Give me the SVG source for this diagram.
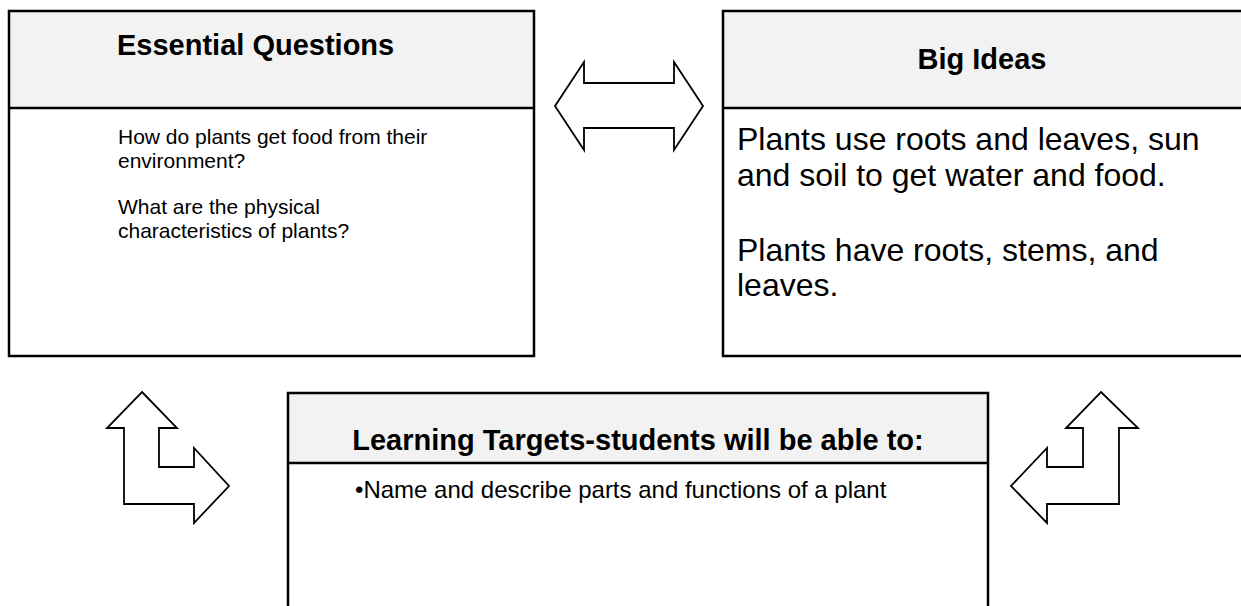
<svg xmlns="http://www.w3.org/2000/svg" width="1241" height="606" viewBox="0 0 1241 606">
<style>
.hdr{fill:#f2f2f2;stroke:none}
.frame{fill:none;stroke:#000;stroke-width:2.5}
.title{font-family:"Liberation Sans",Arial,sans-serif;font-weight:bold;fill:#000}
.body{font-family:"Liberation Sans",Arial,sans-serif;fill:#000}
.arrow{fill:#fff;stroke:#000;stroke-width:1.8;stroke-linejoin:miter}
</style>
<rect width="1241" height="606" fill="#fff"/>
<g id="essential-questions">
<rect class="hdr" x="9" y="11" width="525" height="97"/>
<rect class="frame" x="9" y="11" width="525" height="345"/>
<line x1="9" y1="108" x2="534" y2="108" stroke="#000" stroke-width="2.5"/>
<text class="title" x="117" y="55" font-size="29">Essential Questions</text>
<text class="body" font-size="21"><tspan x="118" y="144">How do plants get food from their</tspan><tspan x="118" y="168">environment?</tspan><tspan x="118" y="214">What are the physical</tspan><tspan x="118" y="238">characteristics of plants?</tspan></text>
</g>
<g id="big-ideas">
<rect class="hdr" x="723" y="11" width="520" height="97"/>
<path class="frame" d="M1243,11 H723 V356 H1243"/>
<line x1="723" y1="108" x2="1243" y2="108" stroke="#000" stroke-width="2.5"/>
<text class="title" x="982" y="69" font-size="29" text-anchor="middle">Big Ideas</text>
<text class="body" font-size="32"><tspan x="737" y="150">Plants use roots and leaves, sun</tspan><tspan x="737" y="186">and soil to get water and food.</tspan><tspan x="737" y="261">Plants have roots, stems, and</tspan><tspan x="737" y="296">leaves.</tspan></text>
</g>
<g id="learning-targets">
<rect class="hdr" x="288" y="393" width="700" height="70"/>
<path class="frame" d="M288,610 V393 H988 V610"/>
<line x1="288" y1="463" x2="988" y2="463" stroke="#000" stroke-width="2.5"/>
<text class="title" x="638" y="450" font-size="29" text-anchor="middle">Learning Targets-students will be able to:</text>
<text class="body" x="355" y="498" font-size="24">•Name and describe parts and functions of a plant</text>
</g>
<g id="connectors">
<polygon class="arrow" points="555,106 584,62 584,83 674,83 674,62 703,106 674,150 674,128 584,128 584,150"/>
<polygon class="arrow" points="142,392 177,428 159,428 159,467 194,467 194,448 229,486 194,523 194,504 124,504 124,428 107,428"/>
<polygon class="arrow" points="1101,392 1138,428 1119,428 1119,504 1047,504 1047,523 1011,486 1047,448 1047,467 1083,467 1083,428 1066,428"/>
</g>
</svg>
